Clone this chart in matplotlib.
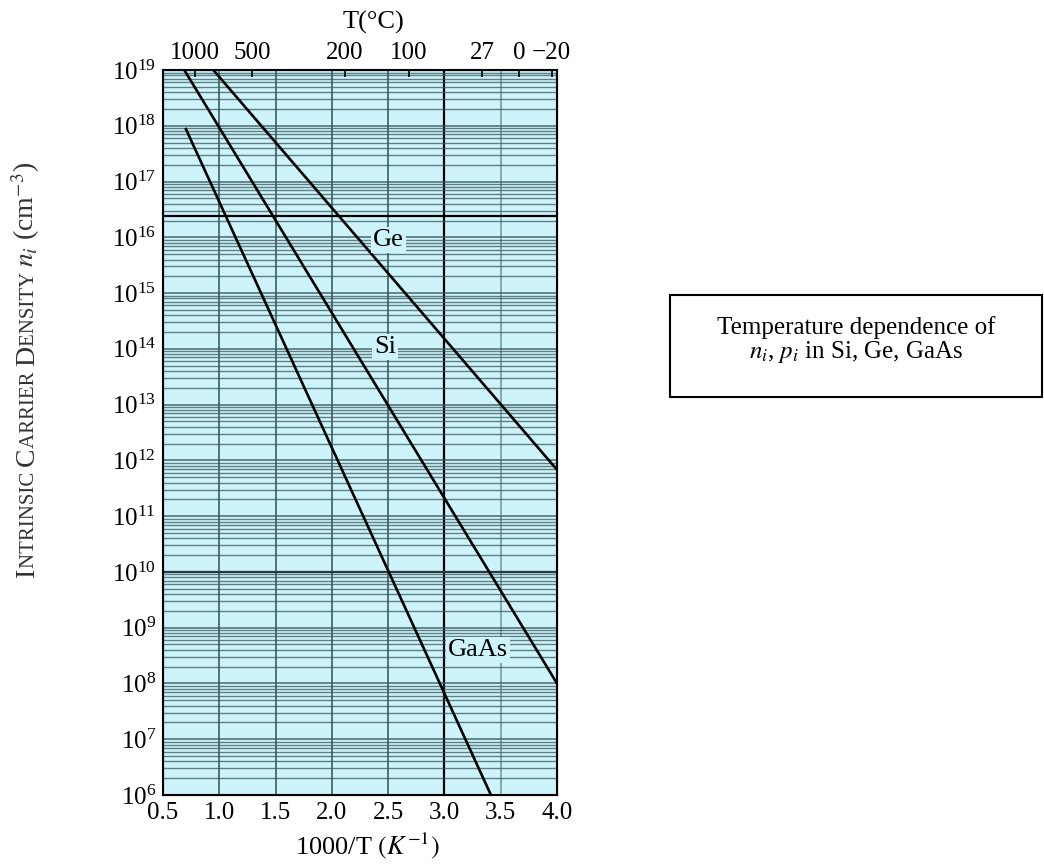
import numpy as np
import matplotlib
matplotlib.use("Agg")
import matplotlib.pyplot as plt
from matplotlib.patches import Rectangle
from matplotlib.ticker import LogLocator, FixedLocator, NullFormatter

plt.rcParams['font.family'] = ['Liberation Serif', 'DejaVu Serif']
plt.rcParams['mathtext.fontset'] = 'stix'

# line end points: 1000/T (1/K) and n_i (cm^-3)
ge_x = [0.947, 4.0]
ge_n = [1e19, 6.8e11]
si_x = [0.689, 4.0]
si_n = [1e19, 1.0e8]
gaas_x = [0.704, 3.413]
gaas_n = [8.7e17, 1e6]

# top axis, temperatures in Celsius
top_temps = [1000, 500, 200, 100, 27, 0, -20]
top_labels = ['1000', '500', '200', '100', '27', '0', '\u221220']

x_ticks = [0.5, 1.0, 1.5, 2.0, 2.5, 3.0, 3.5, 4.0]
x_tick_labels = ['0.5', '1.0', '1.5', '2.0', '2.5', '3.0', '3.5', '4.0']

BG = '#cdf4fb'
GRID = '#3a585c'

fig = plt.figure(figsize=(10.44, 8.68), dpi=100)
ax = fig.add_axes([163/1044, 1 - 795/868, 394/1044, 725/868])
ax.set_facecolor(BG)
ax.set_yscale('log')
ax.set_xlim(0.5, 4.0)
ax.set_ylim(1e6, 1e19)

# log-paper grid
ax.yaxis.set_major_locator(LogLocator(base=10, numticks=20))
ax.yaxis.set_minor_locator(LogLocator(base=10, subs=np.arange(2, 10), numticks=200))
ax.yaxis.set_minor_formatter(NullFormatter())
ax.grid(True, which='major', axis='y', color=GRID, lw=1.1, alpha=0.9)
ax.grid(True, which='minor', axis='y', color=GRID, lw=1.0, alpha=0.75)
for xv in [1.0, 1.5, 2.0, 2.5]:
    ax.axvline(xv, color=GRID, lw=1.3, alpha=0.9, zorder=1)
ax.axvline(3.5, color='#6f8f93', lw=1.3, alpha=0.8, zorder=1)
ax.axvline(3.0, color='black', lw=1.6, zorder=1)
ax.axhline(2.4e16, color='black', lw=1.6, zorder=1)
ax.axhline(1e10, color='black', lw=1.6, zorder=1)

ax.plot(ge_x, ge_n, color='black', lw=1.9, zorder=3)
ax.plot(si_x, si_n, color='black', lw=1.9, zorder=3)
ax.plot(gaas_x, gaas_n, color='black', lw=1.9, zorder=3)

lab_box = dict(facecolor=BG, edgecolor='none', pad=1.5)
ax.text(2.50, 10**15.95, 'Ge', fontsize=19, ha='center', va='center', bbox=lab_box, zorder=4)
ax.text(2.47, 10**14.04, 'Si', fontsize=19, ha='center', va='center', bbox=lab_box, zorder=4)
ax.text(3.30, 10**8.6, 'GaAs', fontsize=19, ha='center', va='center', bbox=lab_box, zorder=4)

ax.set_xticks(x_ticks)
ax.set_xticklabels(x_tick_labels)
ax.tick_params(axis='both', which='both', length=0, labelsize=18)
ax.tick_params(axis='x', pad=5)
ax.tick_params(axis='y', pad=5)
for sp in ax.spines.values():
    sp.set_linewidth(1.5)

# top temperature axis
top = ax.twiny()
top.set_xlim(ax.get_xlim())
top.xaxis.set_major_locator(FixedLocator([1000 / (t + 273) for t in top_temps]))
top.set_xticklabels(top_labels)
top.tick_params(axis='x', direction='in', length=5, width=1.2, labelsize=18, pad=4)
for a in (ax, top):
    a.xaxis.label.set_visible(False)
    a.yaxis.label.set_visible(False)
    a.xaxis.offsetText.set_visible(False)
    a.yaxis.offsetText.set_visible(False)

# axis titles
fig.text(373 / 1044, 1 - 22 / 868, 'T(\u00b0C)', fontsize=19, ha='center', va='center')
fig.text(367 / 1044, 1 - 846 / 868, r'1000/T $\mathit{(K^{-1})}$', fontsize=19,
         ha='center', va='center')

# y label in small caps, built from pieces
renderer = fig.canvas.get_renderer()
pieces = [('I', 20), ('NTRINSIC ', 15), ('C', 20), ('ARRIER ', 15),
          ('D', 20), ('ENSITY ', 15), (r'$n_i$ (cm$^{-3}$)', 20)]
ypos = 577
for s, size in pieces:
    t = fig.text(34 / 1044, 1 - ypos / 868, s, rotation=90, rotation_mode='anchor',
                 ha='left', va='baseline', fontsize=size, color='#333333')
    ext = t.get_window_extent(renderer)
    ypos -= ext.height

# caption box
fig.add_artist(Rectangle((670 / 1044, 1 - 397 / 868), 372 / 1044, 102 / 868,
                         transform=fig.transFigure, fill=False, edgecolor='black', lw=1.5))
fig.text(856 / 1044, 1 - 328 / 868, 'Temperature dependence of', fontsize=18,
         ha='center', va='center')
fig.text(856 / 1044, 1 - 352 / 868, r'$n_i$, $p_i$ in Si, Ge, GaAs', fontsize=18,
         ha='center', va='center')

fig.savefig('out.png', dpi=100)
